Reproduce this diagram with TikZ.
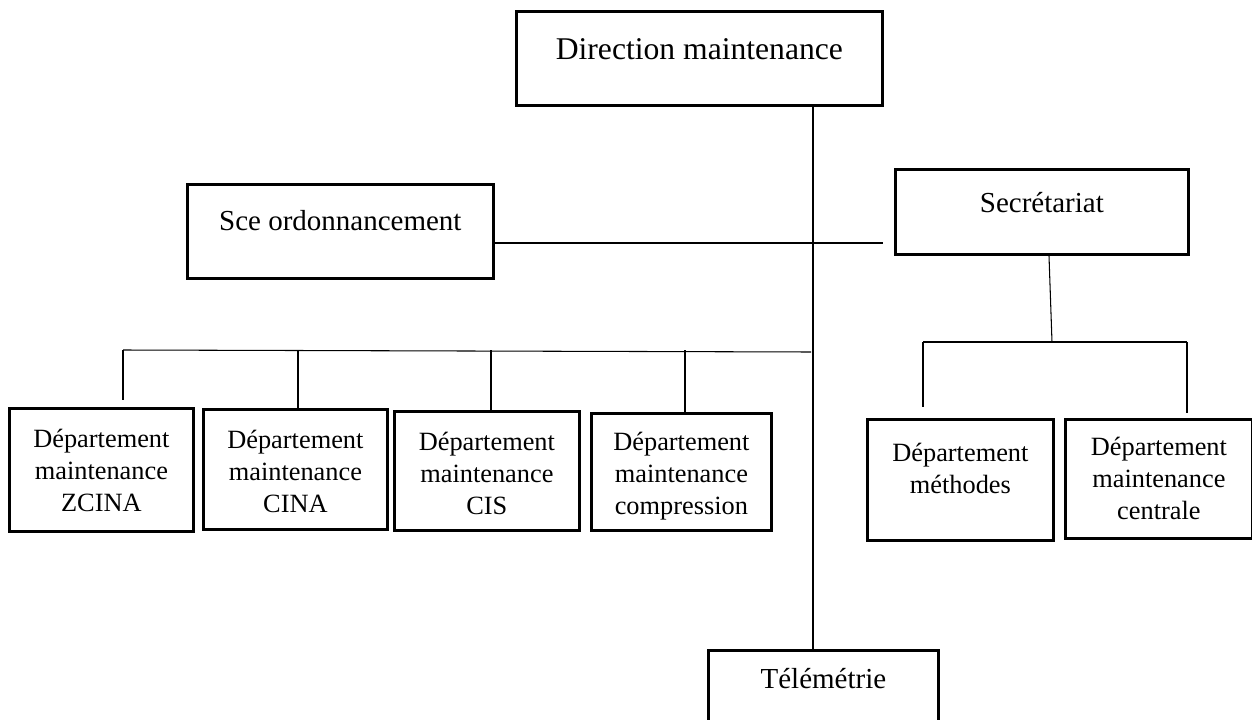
\documentclass[tikz,border=0pt]{standalone}
\usepackage{fontspec}
\setmainfont{Liberation Serif}
\tikzset{
  box/.style={draw, line width=1.6pt, inner ysep=0pt, inner xsep=2pt, align=center, anchor=north west},
  big/.style={font=\fontsize{18}{21}\selectfont},
  mid/.style={font=\fontsize{16.5}{19}\selectfont},
  dept/.style={font=\fontsize{15}{18.2}\selectfont},
  link/.style={line width=0.6pt}
}
\begin{document}
\begin{tikzpicture}[x=0.02cm, y=-0.02cm, line cap=butt]
	\useasboundingbox (0,0) rectangle (1252,720);
	%Boxes
	\node[box, big, minimum width=7.32cm, text height=0.96cm, text depth=0.92cm] (dir) at (515,10) {Direction maintenance};
	\node[box, mid, minimum width=6.12cm, text height=0.92cm, text depth=0.96cm] (sce) at (186,183) {Sce ordonnancement};
	\node[box, mid, minimum width=5.86cm, text height=0.86cm, text depth=0.84cm] (secr) at (894,168) {Secr\'etariat};
	\node[box, mid, minimum width=4.60cm, text height=0.76cm, text depth=1.00cm] (tele) at (707,649) {T\'el\'em\'etrie};

	\node[box, dept, minimum width=3.68cm, text height=2.06cm, text depth=0.40cm] (zcina) at (8,407) {D\'epartement\\maintenance\\ZCINA};
	\node[box, dept, minimum width=3.68cm, text height=2.06cm, text depth=0.34cm] (cina) at (202,408) {D\'epartement\\maintenance\\CINA};
	\node[box, dept, minimum width=3.70cm, text height=2.06cm, text depth=0.32cm] (cis) at (393,410) {D\'epartement\\maintenance\\CIS};
	\node[box, dept, minimum width=3.60cm, text height=2.02cm, text depth=0.32cm] (comp) at (590,412) {D\'epartement\\maintenance\\compression};
	\node[box, dept, minimum width=3.72cm, text height=1.48cm, text depth=0.94cm] (meth) at (866,418) {D\'epartement\\m\'ethodes};
	\node[box, dept, minimum width=3.74cm, text height=2.00cm, text depth=0.38cm] (cent) at (1064,418) {D\'epartement\\maintenance\\centrale};

	%Coordinates
	\coordinate (trunk) at (813,0);
	\coordinate (hsce) at (0,243);
	\coordinate (busL) at (123,350);
	\coordinate (busR) at (811,352);
	\coordinate (secrdown) at (1049,0);
	\coordinate (busS) at (1052,342);
	\coordinate (busSL) at (923,342);
	\coordinate (busSR) at (1187,342);

	%Links
	\draw[link] (dir.south -| trunk) -- (tele.north -| trunk);
	\draw[link] (sce.east |- hsce) -- ([xshift=-6]secr.west |- hsce);
	\draw[link] (busL) -- (busR);
	\draw[link] (busL) -- ([yshift=4]zcina.north -| busL);
	\foreach \n/\x in {cina/298, cis/491, comp/685}
	  \draw[link] (\x,350) -- (\n.north -| \x,0);
	\draw[link] (secr.south -| secrdown) -- (busS);
	\draw[link] (busSL) -- (busSR);
	\draw[link] (busSL) -- ([yshift=6]meth.north -| busSL);
	\draw[link] (busSR) -- ([yshift=3]cent.north -| busSR);
\end{tikzpicture}
\end{document}
